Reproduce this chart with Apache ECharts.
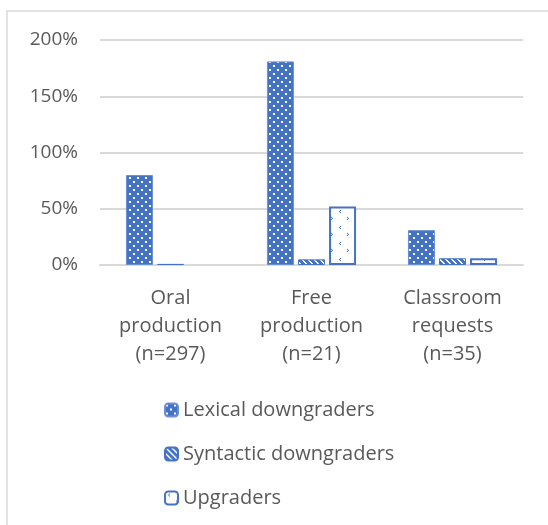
<!DOCTYPE html>
<html>
<head>
<meta charset="utf-8">
<script src="https://cdn.jsdelivr.net/npm/echarts@6/dist/echarts.min.js"></script>
<style>
html,body{margin:0;padding:0;background:#fff;}
#chart{width:548px;height:525px;}
</style>
</head>
<body>
<div id="chart"></div>
<script>
const categories = ['Oral\nproduction\n(n=297)', 'Free\nproduction\n(n=21)', 'Classroom\nrequests\n(n=35)'];
const seriesNames = ['Lexical downgraders', 'Syntactic downgraders', 'Upgraders'];
const lexical = [80, 181, 31];
const syntactic = [1, 5, 6];
const upgraders = [0, 52, 6];
const yTicks = [0, 50, 100, 150, 200];

const BLUE = '#4472C4';
function makePattern(kind) {
  const c = document.createElement('canvas');
  const ctx = c.getContext('2d');
  if (kind === 'dots') {
    c.width = 8; c.height = 8;
    ctx.fillStyle = BLUE; ctx.fillRect(0, 0, 8, 8);
    ctx.fillStyle = '#fff';
    ctx.fillRect(1, 1, 2, 2);
    ctx.fillRect(5, 5, 2, 2);
  } else if (kind === 'diag') {
    c.width = 6; c.height = 6;
    ctx.fillStyle = BLUE; ctx.fillRect(0, 0, 6, 6);
    ctx.fillStyle = '#fff';
    for (let i = 0; i < 6; i++) {
      ctx.fillRect(i, i, 1, 1);
      ctx.fillRect((i + 1) % 6, i, 1, 1);
    }
  } else {
    c.width = 16; c.height = 16;
    ctx.fillStyle = '#fff'; ctx.fillRect(0, 0, 16, 16);
    ctx.fillStyle = BLUE;
    ctx.fillRect(4, 2, 1, 1); ctx.fillRect(3, 3, 1, 1); ctx.fillRect(4, 4, 1, 1);
    ctx.fillRect(11, 9, 1, 1); ctx.fillRect(12, 10, 1, 1); ctx.fillRect(11, 11, 1, 1);
  }
  return { image: c, repeat: 'repeat' };
}
function hideZero(arr) {
  return arr.map(v => v === 0 ? { value: v, itemStyle: { borderWidth: 0 } } : v);
}

const chart = echarts.init(document.getElementById('chart'), null, { renderer: 'canvas' });
const txt = '#595959';
const font = 'Open Sans';
chart.setOption({
  animation: false,
  backgroundColor: '#fff',
  graphic: [{
    type: 'rect', shape: { x: 7, y: 11, width: 700, height: 700 },
    style: { fill: 'none', stroke: '#d9d9d9', lineWidth: 1.5 }, silent: true
  }],
  grid: { left: 100, right: 25, top: 40, bottom: 260, containLabel: false },
  legend: {
    orient: 'vertical', left: 159, top: 393,
    itemWidth: 13, itemHeight: 13, itemGap: 20,
    textStyle: { color: txt, fontFamily: font, fontSize: 20, lineHeight: 24 },
    data: seriesNames
  },
  xAxis: {
    type: 'category', data: categories,
    axisLine: { lineStyle: { color: '#d9d9d9', width: 2 } },
    axisTick: { show: false },
    axisLabel: { color: txt, fontFamily: font, fontSize: 20, lineHeight: 28, margin: 19, interval: 0 }
  },
  yAxis: {
    type: 'value', min: 0, max: 200, interval: 50,
    axisLine: { show: false }, axisTick: { show: false },
    splitLine: { lineStyle: { color: '#d9d9d9', width: 2 } },
    axisLabel: { color: txt, fontFamily: font, fontSize: 19, margin: 22,
      formatter: v => yTicks.includes(v) ? v + '%' : '' }
  },
  series: [
    { name: seriesNames[0], type: 'bar', data: lexical, barWidth: 27, barGap: '15%',
      itemStyle: { color: makePattern('dots'), borderColor: '#6a8fd3', borderWidth: 1 } },
    { name: seriesNames[1], type: 'bar', data: syntactic, barWidth: 27,
      itemStyle: { color: makePattern('diag'), borderColor: BLUE, borderWidth: 1 } },
    { name: seriesNames[2], type: 'bar', data: hideZero(upgraders), barWidth: 27,
      itemStyle: { color: makePattern('sparse'), borderColor: BLUE, borderWidth: 2 } }
  ]
});
</script>
</body>
</html>
